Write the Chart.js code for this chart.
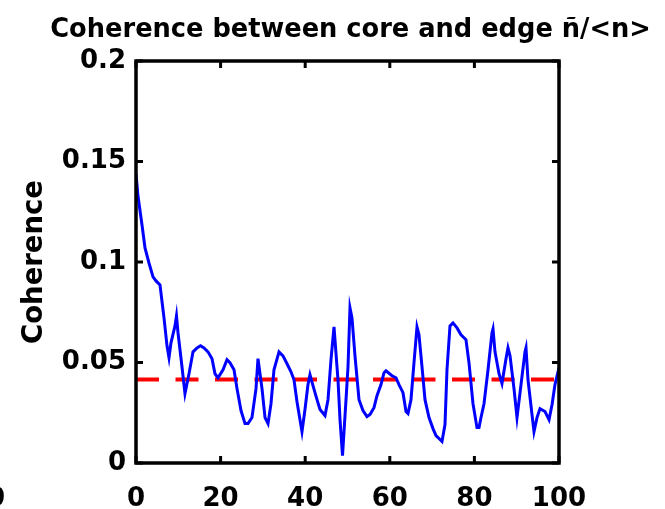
<!DOCTYPE html>
<html>
<head>
<meta charset="utf-8">
<script src="https://cdn.jsdelivr.net/npm/chart.js@4.4.1/dist/chart.umd.min.js"></script>
<style>
  html, body { margin: 0; padding: 0; background: #fff; }
  #wrap { width: 665px; height: 509px; }
</style>
</head>
<body>
<div id="wrap"><canvas id="c" width="665" height="509"></canvas></div>
<script>
// Frequency axis (kHz) and core/edge coherence
const freq = [
  0.00, 0.47, 1.42, 2.13, 3.07, 4.02, 4.73, 5.67, 6.62, 7.33,
  7.80, 8.27, 9.22, 9.57, 9.93, 10.87, 11.58, 12.53, 13.48, 14.42,
  15.25, 16.08, 17.02, 17.97, 18.68, 19.39, 20.57, 21.51, 22.22, 23.17,
  23.88, 24.82, 25.77, 26.48, 27.42, 28.37, 28.84, 29.79, 30.50, 31.21,
  31.91, 32.62, 33.81, 34.75, 35.70, 36.64, 37.35, 38.06, 39.24, 39.95,
  40.66, 41.13, 41.84, 42.79, 43.50, 44.68, 45.39, 46.10, 46.81, 47.75,
  48.23, 48.82, 49.65, 50.12, 50.59, 51.06, 51.77, 52.72, 53.66, 54.61,
  55.32, 56.26, 56.97, 57.92, 58.63, 59.10, 60.52, 61.47, 62.17, 63.12,
  63.83, 64.30, 65.01, 65.72, 66.43, 66.90, 67.61, 68.32, 69.27, 70.21,
  70.92, 71.87, 72.34, 73.05, 73.52, 74.23, 74.94, 75.89, 76.83, 77.54,
  78.01, 78.72, 79.67, 80.61, 81.09, 81.56, 82.27, 83.22, 84.16, 84.40,
  84.87, 85.82, 86.52, 87.47, 87.94, 88.42, 89.36, 90.07, 91.02, 91.96,
  92.20, 92.67, 93.62, 94.09, 94.80, 95.51, 96.69, 97.64, 98.35, 99.05,
  100.00
];
const coherence = [
  0.1437, 0.1328, 0.1184, 0.1070, 0.0995, 0.0926, 0.0906, 0.0886, 0.0722, 0.0583,
  0.0524, 0.0598, 0.0682, 0.0732, 0.0648, 0.0479, 0.0345, 0.0444, 0.0553, 0.0573,
  0.0583, 0.0573, 0.0553, 0.0519, 0.0444, 0.0424, 0.0464, 0.0514, 0.0499, 0.0464,
  0.0370, 0.0261, 0.0196, 0.0196, 0.0226, 0.0370, 0.0519, 0.0370, 0.0226, 0.0196,
  0.0295, 0.0464, 0.0553, 0.0533, 0.0494, 0.0454, 0.0414, 0.0305, 0.0156, 0.0266,
  0.0390, 0.0439, 0.0385, 0.0315, 0.0266, 0.0236, 0.0315, 0.0514, 0.0677, 0.0414,
  0.0216, 0.0037, 0.0315, 0.0479, 0.0772, 0.0722, 0.0533, 0.0315, 0.0261, 0.0231,
  0.0241, 0.0275, 0.0335, 0.0390, 0.0449, 0.0459, 0.0434, 0.0424, 0.0390, 0.0350,
  0.0256, 0.0246, 0.0315, 0.0499, 0.0677, 0.0638, 0.0479, 0.0315, 0.0226, 0.0171,
  0.0136, 0.0117, 0.0107, 0.0191, 0.0464, 0.0682, 0.0697, 0.0672, 0.0638, 0.0623,
  0.0613, 0.0499, 0.0295, 0.0176, 0.0176, 0.0226, 0.0295, 0.0464, 0.0648, 0.0667,
  0.0553, 0.0444, 0.0395, 0.0519, 0.0573, 0.0533, 0.0370, 0.0226, 0.0390, 0.0553,
  0.0573, 0.0414, 0.0241, 0.0156, 0.0226, 0.0270, 0.0256, 0.0216, 0.0290, 0.0390,
  0.0474
];
// Significance level drawn as a dashed horizontal line
const thresholdFreq = [0, 100];
const thresholdLevel = [0.0415, 0.0415];

const xTicks = [0, 20, 40, 60, 80, 100];
const xTickLabels = ['0', '20', '40', '60', '80', '100'];
const yTicks = [0, 0.05, 0.1, 0.15, 0.2];
const yTickLabels = ['0', '0.05', '0.1', '0.15', '0.2'];

const TICK_FONT = { family: 'DejaVu Sans', size: 26, weight: 'bold' };
const LABEL_FONT = { family: 'DejaVu Sans', size: 27.5, weight: 'bold' };
const TITLE_FONT = { family: 'DejaVu Sans', size: 25.7, weight: 'bold' };

// Box frame with inward tick marks on all four sides
const framePlugin = {
  id: 'frame',
  afterDatasetsDraw(chart) {
    const { ctx, chartArea: a, scales: { x, y } } = chart;
    ctx.save();
    ctx.strokeStyle = '#000';
    ctx.lineWidth = 3.5;
    ctx.strokeRect(a.left, a.top, a.right - a.left, a.bottom - a.top);
    ctx.lineWidth = 3;
    ctx.beginPath();
    xTicks.forEach(v => {
      const px = x.getPixelForValue(v);
      ctx.moveTo(px, a.bottom); ctx.lineTo(px, a.bottom - 7);
      ctx.moveTo(px, a.top); ctx.lineTo(px, a.top + 7);
    });
    yTicks.forEach(v => {
      const py = y.getPixelForValue(v);
      ctx.moveTo(a.left, py); ctx.lineTo(a.left + 7, py);
      ctx.moveTo(a.right, py); ctx.lineTo(a.right - 7, py);
    });
    ctx.stroke();
    ctx.restore();
  },
  afterDraw(chart) {
    // partial tick label cut by the left edge
    const { ctx, scales: { x } } = chart;
    ctx.save();
    ctx.font = `${TICK_FONT.weight} ${TICK_FONT.size}px ${TICK_FONT.family}`;
    ctx.fillStyle = '#000';
    ctx.textAlign = 'center';
    ctx.textBaseline = 'middle';
    ctx.fillText('0', -4, x.top + 36);
    ctx.restore();
  }
};

new Chart(document.getElementById('c'), {
  type: 'line',
  data: {
    datasets: [
      {
        data: freq.map((f, i) => ({ x: f, y: coherence[i] })),
        borderColor: '#0000ff',
        borderWidth: 3,
        pointRadius: 0,
        tension: 0,
        fill: false
      },
      {
        data: thresholdFreq.map((f, i) => ({ x: f, y: thresholdLevel[i] })),
        borderColor: '#ff0000',
        borderWidth: 4,
        borderDash: [23, 16.5],
        pointRadius: 0,
        fill: false
      }
    ]
  },
  options: {
    responsive: false,
    animation: false,
    devicePixelRatio: 1,
    layout: { padding: { left: 36, right: 0, top: 0, bottom: 0 } },
    plugins: {
      legend: { display: false },
      tooltip: { enabled: false },
      title: {
        display: true,
        fullSize: true,
        text: 'Coherence between core and edge ñ/<n>',
        color: '#000',
        font: TITLE_FONT,
        padding: { top: 14.6, bottom: 15.56 }
      }
    },
    scales: {
      x: {
        type: 'linear',
        min: 0, max: 100,
        afterBuildTicks: s => { s.ticks = xTicks.map(v => ({ value: v })); },
        afterFit: s => { s.height = 46; },
        grid: { display: false, drawTicks: false },
        border: { display: false },
        ticks: {
          color: '#000', font: TICK_FONT, padding: 21, maxRotation: 0,
          callback: (v, i) => xTickLabels[i]
        }
      },
      y: {
        type: 'linear',
        min: 0, max: 0.2,
        afterBuildTicks: s => { s.ticks = yTicks.map(v => ({ value: v })); },
        afterFit: s => { s.width = 100; },
        grid: { display: false, drawTicks: false },
        border: { display: false },
        ticks: {
          color: '#000', font: TICK_FONT, padding: 10,
          callback: (v, i) => yTickLabels[i]
        },
        title: {
          display: true, text: 'Coherence', color: '#000', font: LABEL_FONT,
          padding: { top: -17.5, bottom: 0 }
        }
      },
      // empty strip on the right side of the plot box
      yRight: {
        type: 'linear',
        position: 'right',
        min: 0, max: 0.2,
        afterFit: s => { s.width = 106; },
        grid: { display: false, drawTicks: false },
        border: { display: false },
        ticks: { display: false }
      }
    }
  },
  plugins: [framePlugin]
});
</script>
</body>
</html>
